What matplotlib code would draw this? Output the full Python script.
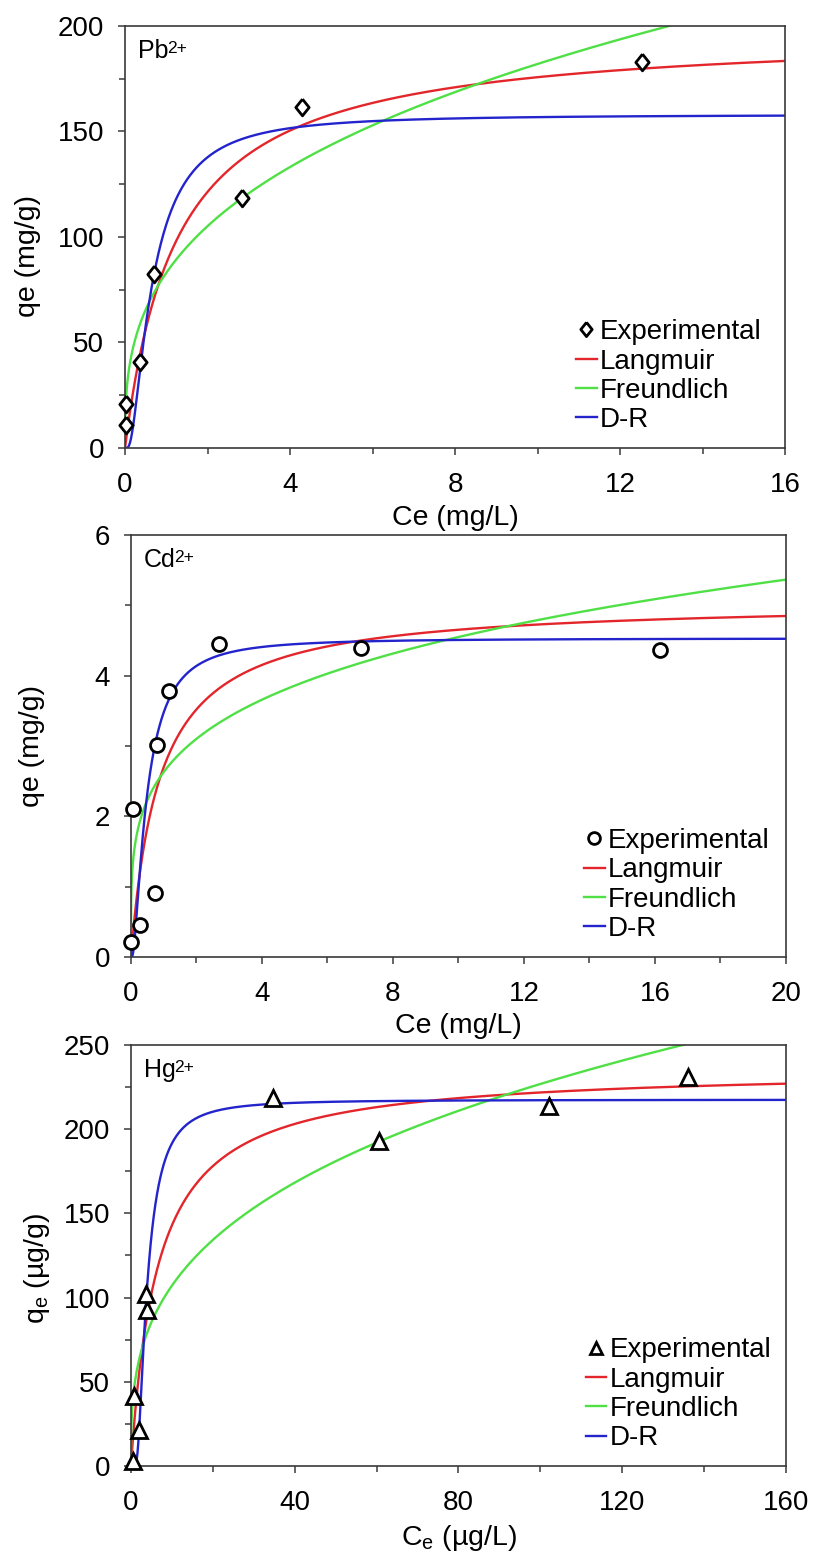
import numpy as np
import matplotlib
matplotlib.use("Agg")
import matplotlib.pyplot as plt
from matplotlib.lines import Line2D
from matplotlib.ticker import MultipleLocator

plt.rcParams["font.family"] = ["Liberation Sans", "DejaVu Sans"]
plt.rcParams["mathtext.fontset"] = "custom"
plt.rcParams["mathtext.rm"] = "Liberation Sans"
plt.rcParams["mathtext.it"] = "Liberation Sans:italic"

# ---- experimental equilibrium data ----
pb_ce = [0.02, 0.03, 0.37, 0.70, 2.84, 4.29, 12.54]
pb_qe = [10.8, 20.9, 40.9, 82.6, 118.6, 161.7, 183.0]

cd_ce = [0.0, 0.27, 0.74, 0.05, 0.80, 1.15, 2.69, 7.01, 16.14]
cd_qe = [0.21, 0.45, 0.91, 2.11, 3.01, 3.78, 4.45, 4.39, 4.37]

hg_ce = [0.57, 2.0, 0.65, 3.84, 3.67, 34.7, 60.7, 102.0, 136.0]
hg_qe = [3.0, 21.2, 41.4, 92.5, 102.4, 218.3, 192.9, 213.7, 231.2]

# ---- fitted isotherm parameters ----
pb_langmuir = (197.9, 0.793)    # qm, KL
pb_freundlich = (83.0, 0.341)   # KF, 1/n
pb_dr = (158.0, 0.833)          # qm, beta

cd_langmuir = (5.06, 1.143)
cd_freundlich = (2.63, 0.238)
cd_dr = (4.53, 0.55)

hg_langmuir = (236.3, 0.153)
hg_freundlich = (50.55, 0.326)
hg_dr = (217.5, 14.0)

legend_labels = ["Experimental", "Langmuir", "Freundlich", "D-R"]

RED = "#e3262b"
GREEN = "#4fe045"
BLUE = "#2424cc"
SPINE = "#3a3a3a"


def langmuir(c, qm, k):
    return qm * k * c / (1.0 + k * c)


def freundlich(c, kf, ninv):
    return kf * c ** ninv


def dubinin(c, qm, beta):
    eps = np.log(1.0 + 1.0 / c)
    return qm * np.exp(-beta * eps ** 2)


diamond = [(0, 1), (0.8, 0), (0, -1), (-0.8, 0), (0, 1)]

fig = plt.figure(figsize=(8.15, 15.57), dpi=100)

panels = [
    dict(rect=[0.1534, 0.7123, 0.8098, 0.2710], ce=pb_ce, qe=pb_qe,
         L=pb_langmuir, F=pb_freundlich, D=pb_dr, marker=diamond, ms=12,
         xmax=16, ymax=200, xmaj=4, xmin=2, ymaj=50, ymin=25,
         ion="Pb", charge="2+", xlabel="Ce (mg/L)", ylabel="qe (mg/g)",
         ylab_pos=(-0.127, 0.455), leg=(0.965, 0.035)),
    dict(rect=[0.1607, 0.3854, 0.8037, 0.2710], ce=cd_ce, qe=cd_qe,
         L=cd_langmuir, F=cd_freundlich, D=cd_dr, marker="o", ms=10,
         xmax=20, ymax=6, xmaj=4, xmin=2, ymaj=2, ymin=1,
         ion="Cd", charge="2+", xlabel="Ce (mg/L)", ylabel="qe (mg/g)",
         ylab_pos=(-0.132, 0.5), leg=(0.975, 0.035)),
    dict(rect=[0.1607, 0.05845, 0.8037, 0.2704], ce=hg_ce, qe=hg_qe,
         L=hg_langmuir, F=hg_freundlich, D=hg_dr, marker="^", ms=11,
         xmax=160, ymax=250, xmaj=40, xmin=20, ymaj=50, ymin=25,
         ion="Hg", charge="2+", xlabel=r"C$_{\mathrm{e}}$ (µg/L)",
         ylabel=r"q$_{\mathrm{e}}$ (µg/g)",
         ylab_pos=(-0.12, 0.47), leg=(0.978, 0.035)),
]

for p in panels:
    ax = fig.add_axes(p["rect"])
    c = np.concatenate([np.geomspace(1e-3, 1.0, 400),
                        np.linspace(1.0, p["xmax"], 800)[1:]])
    ax.plot(c, langmuir(c, *p["L"]), color=RED, lw=1.7, zorder=2)
    ax.plot(c, freundlich(c, *p["F"]), color=GREEN, lw=1.7, zorder=2)
    ax.plot(c, dubinin(c, *p["D"]), color=BLUE, lw=1.7, zorder=2)
    ax.plot(p["ce"], p["qe"], linestyle="none", marker=p["marker"],
            ms=p["ms"], mfc="white", mec="black", mew=2.0, zorder=3,
            clip_on=False)

    ax.set_xlim(0, p["xmax"])
    ax.set_ylim(0, p["ymax"])
    ax.xaxis.set_major_locator(MultipleLocator(p["xmaj"]))
    ax.xaxis.set_minor_locator(MultipleLocator(p["xmin"]))
    ax.yaxis.set_major_locator(MultipleLocator(p["ymaj"]))
    ax.yaxis.set_minor_locator(MultipleLocator(p["ymin"]))
    ax.tick_params(which="both", direction="out", color=SPINE, width=1.1)
    ax.tick_params(which="major", length=5)
    ax.tick_params(which="minor", length=4)
    ax.tick_params(axis="x", which="major", pad=12, labelsize=20)
    ax.tick_params(axis="y", which="major", pad=10, labelsize=20)
    for s in ax.spines.values():
        s.set_color(SPINE)
        s.set_linewidth(1.2)

    ax.set_xlabel(p["xlabel"], fontsize=20.5, labelpad=5)
    ax.set_ylabel(p["ylabel"], fontsize=20.5)
    ax.yaxis.set_label_coords(*p["ylab_pos"])

    # ion symbol with its charge as a superscript
    tag = ax.text(0.02, 0.97, p["ion"], transform=ax.transAxes, fontsize=18,
                  ha="left", va="top")
    ax.annotate(p["charge"], xy=(1, 1), xycoords=tag, xytext=(-1.2, -1.5),
                textcoords="offset points", fontsize=12.5,
                ha="left", va="top")

    handles = [
        Line2D([], [], linestyle="none", marker=p["marker"], ms=p["ms"] * 0.85,
               mfc="white", mec="black", mew=2.0),
        Line2D([], [], color=RED, lw=1.7),
        Line2D([], [], color=GREEN, lw=1.7),
        Line2D([], [], color=BLUE, lw=1.7),
    ]
    ax.legend(handles, legend_labels, loc="lower right",
              bbox_to_anchor=p["leg"], frameon=False, fontsize=20,
              handlelength=0.75, handletextpad=0.12, labelspacing=0.12,
              borderaxespad=0, borderpad=0)

fig.savefig("out.png", dpi=100)
